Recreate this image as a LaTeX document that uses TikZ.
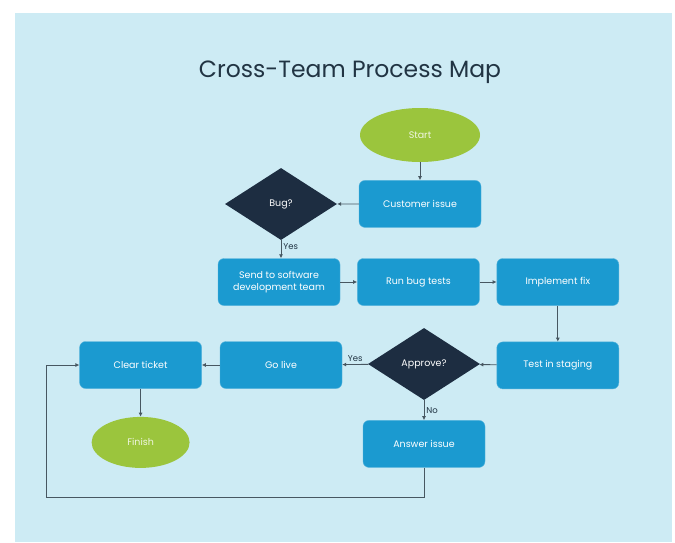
\documentclass[tikz,border=0pt]{standalone}
\usepackage{fontspec}
\setmainfont{Poppins}
\usetikzlibrary{arrows.meta,positioning,shapes.geometric}
\definecolor{MapBg}{HTML}{CDEBF4}
\definecolor{MapBlue}{HTML}{1B9AD0}
\definecolor{MapGreen}{HTML}{9BC53D}
\definecolor{MapNavy}{HTML}{1D2D41}
\definecolor{MapInk}{HTML}{213443}
\definecolor{MapLine}{HTML}{475761}
\tikzset{procbox/.style={rounded corners=6pt,draw=MapBlue!75!white,fill=MapBlue,text=white,align=center,minimum width=122pt,minimum height=47pt,inner sep=2pt,font=\fontsize{9.5}{12}\selectfont}, decision/.style={diamond,fill=MapNavy,text=white,inner sep=0pt,minimum width=112pt,minimum height=72pt,font=\fontsize{9.5}{12}\selectfont}, terminal/.style={ellipse,fill=MapGreen,text=white!85!MapGreen,inner sep=0pt,font=\fontsize{9.5}{12}\selectfont}, arrow/.style={-{Latex[length=4pt,width=4pt]},line width=0.9pt,draw=MapLine}, lbl/.style={text=MapInk,font=\fontsize{8.5}{10}\selectfont,inner sep=2pt}}

\begin{document}
\begin{tikzpicture}[x=1pt,y=-1pt,node distance=17pt and 17pt]
\useasboundingbox (0,0) rectangle (675,542);
\fill[MapBg] (15,13) rectangle (672,542);
\node[anchor=base,text=MapInk,font=\fontsize{23.5}{28}\selectfont] (title) at (350,77) {Cross-Team Process Map};
\node[terminal,minimum width=120pt,minimum height=54pt] (start) at (420,135) {Start};
\node[procbox,below=18pt of start] (cust) {Customer issue};
\node[decision] (bug) at (281,204) {Bug?};
\node[procbox] (send) at (279,282) {Send to software\\development team};
\node[procbox,right=of send] (run) {Run bug tests};
\node[procbox,right=of run] (impl) {Implement fix};
\node[procbox,below=36pt of impl] (test) {Test in staging};
\node[decision] (approve) at (424,364) {Approve?};
\node[procbox] (golive) at (281,365) {Go live};
\node[procbox,left=18pt of golive] (clear) {Clear ticket};
\node[terminal,below=28pt of clear,minimum width=98pt,minimum height=51pt] (finish) {Finish};
\node[procbox,below=20pt of approve] (answer) {Answer issue};
\coordinate (loop) at (46,497);
\draw[arrow] (start) -- (cust);
\draw[arrow] (cust) -- (bug);
\draw[arrow] (bug.south) -- node[lbl,right,pos=0.35] {Yes} (bug.south |- send.north);
\foreach \src/\dst in {send/run,run/impl,test/approve,golive/clear}{\draw[arrow] (\src)--(\dst);}
\draw[arrow] (impl.south) -- (impl.south |- test.north);
\draw[arrow] (approve) -- node[lbl,above] {Yes} (golive);
\draw[arrow] (clear) -- (finish);
\draw[arrow] (approve.south) -- node[lbl,right] {No} (approve.south |- answer.north);
\draw[arrow] (answer.south) |- (loop) |- (clear.west);
\end{tikzpicture}
\end{document}
